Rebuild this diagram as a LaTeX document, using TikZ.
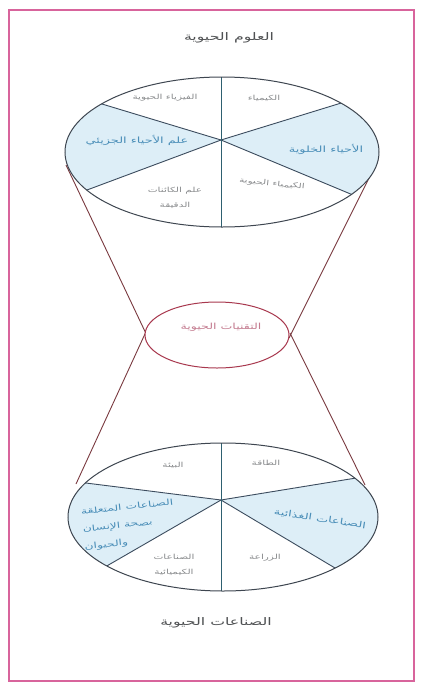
\documentclass[tikz,border=0pt]{standalone}
\usepackage{fontspec}
\newfontfamily\arabicfont[Script=Arabic,FakeStretch=1.5]{DejaVu Sans}
\TeXXeTstate=1
\newcommand\ar[1]{{\arabicfont\beginR #1\endR}}
\definecolor{framecol}{HTML}{D8649C}
\definecolor{rimcol}{HTML}{3E4650}
\definecolor{spokecol}{HTML}{3C4C5E}
\definecolor{vspokecol}{HTML}{2E6070}
\definecolor{conecol}{HTML}{7A3A40}
\definecolor{midcol}{HTML}{A8384E}
\definecolor{bluefill}{HTML}{DDEEF7}
\definecolor{graytext}{HTML}{8A8C8E}
\definecolor{bluetext}{HTML}{4A8EB8}
\definecolor{pinktext}{HTML}{C47C90}
\definecolor{titletext}{HTML}{505254}
\begin{document}
\begin{tikzpicture}[x=1pt,y=-1pt,
  frame/.style={draw=framecol,line width=1.6pt},
  rim/.style={draw=rimcol,line width=1pt},
  spoke/.style={draw=spokecol,line width=0.9pt},
  vspoke/.style={draw=vspokecol,line width=1pt},
  cone/.style={draw=conecol,line width=0.9pt},
  midrim/.style={draw=midcol,line width=1pt,fill=white},
  sector/.style={fill=bluefill},
  glabel/.style={text=graytext,font=\fontsize{7}{15}\selectfont,align=center,inner sep=1pt},
  blabel/.style={text=bluetext,font=\fontsize{8.6}{18}\selectfont,align=center,inner sep=1pt},
  title/.style={text=titletext,font=\fontsize{10.5}{12}\selectfont,inner sep=1pt}]
\useasboundingbox (0,0) rectangle (422,689);
\fill[white] (0,0) rectangle (422,689);
\draw[frame] (9,10) rectangle (414,681);

% named points
\coordinate (tc) at (222,152);
\coordinate (ts) at (221,140);
\coordinate (bc) at (223,517);
\coordinate (bs) at (221,500);
\coordinate (mc) at (217,335);

% cone lines
\coordinate (tl) at (66,165);
\coordinate (tr) at (378,160);
\coordinate (ml1) at (150,342);
\coordinate (ml2) at (150,323);
\coordinate (mr1) at (289,338);
\coordinate (mr2) at (290,333);
\coordinate (bl) at (76,484);
\coordinate (br) at (365,485);
\draw[cone] (tl) -- (ml1);
\draw[cone] (tr) -- (mr1);
\draw[cone] (ml2) -- (bl);
\draw[cone] (mr2) -- (br);

% top ellipse
\begin{scope}
  \clip (tc) ellipse [x radius=157pt, y radius=75pt];
  \fill[white] (tc) ellipse [x radius=157pt, y radius=75pt];
  \fill[sector] (ts) -- (-17,68) -- (-47,240) -- cycle;
  \fill[sector] (ts) -- (455,68) -- (485,250) -- cycle;
  \draw[spoke] (ts) -- (-17,68);
  \draw[spoke] (ts) -- (-47,240);
  \draw[spoke] (ts) -- (455,68);
  \draw[spoke] (ts) -- (485,250);
  \draw[vspoke] (221,60) -- (221,240);
\end{scope}
\draw[rim] (tc) ellipse [x radius=157pt, y radius=75pt];

% bottom ellipse
\begin{scope}
  \clip (bc) ellipse [x radius=155pt, y radius=74pt];
  \fill[white] (bc) ellipse [x radius=155pt, y radius=74pt];
  \fill[sector] (bs) -- (-65,464) -- (-11,634) -- cycle;
  \fill[sector] (bs) -- (479,458) -- (449,636) -- cycle;
  \draw[spoke] (bs) -- (-65,464);
  \draw[spoke] (bs) -- (-11,634);
  \draw[spoke] (bs) -- (479,458);
  \draw[spoke] (bs) -- (449,636);
  \draw[vspoke] (221,420) -- (221,620);
\end{scope}
\draw[rim] (bc) ellipse [x radius=155pt, y radius=74pt];

% middle ellipse
\draw[midrim] (mc) ellipse [x radius=72pt, y radius=33pt];

% titles
\node[title] (t1) at (229,38) {\ar{العلوم الحيوية}};
\node[title] (t2) at (216,623) {\ar{الصناعات الحيوية}};

% top labels
\node[glabel] (a1) at (165,98) {\ar{الفيزياء الحيوية}};
\node[glabel] (a2) at (264,98) {\ar{الكيمياء}};
\node[blabel] (a3) at (137,140) {\ar{علم الأحياء الجزيئي}};
\node[blabel] (a4) at (326,149) {\ar{الأحياء الخلوية}};
\node[glabel,rotate=-6] (a5) at (272,184) {\ar{الكيمياء الحيوية}};
\node[glabel] (a6) at (175,198) {\ar{علم الكائنات}\\\ar{الدقيقة}};

% middle label
\node[text=pinktext,font=\fontsize{8.4}{10}\selectfont] (m1) at (221,327) {\ar{التقنيات الحيوية}};

% bottom labels
\node[glabel] (b1) at (173,465) {\ar{البيئة}};
\node[glabel] (b2) at (266,463) {\ar{الطاقة}};
\node[blabel,rotate=6,align=left,font=\fontsize{8.2}{17.5}\selectfont] (b3) at (129,525) {\ar{الصناعات المتعلقة}\\\ar{بصحة الإنسان}\\\ar{والحيوان}};
\node[blabel,rotate=-9] (b4) at (320,519) {\ar{الصناعات الغذائية}};
\node[glabel] (b5) at (265,558) {\ar{الزراعة}};
\node[glabel] (b6) at (174,565) {\ar{الصناعات}\\\ar{الكيميائية}};
\end{tikzpicture}
\end{document}
